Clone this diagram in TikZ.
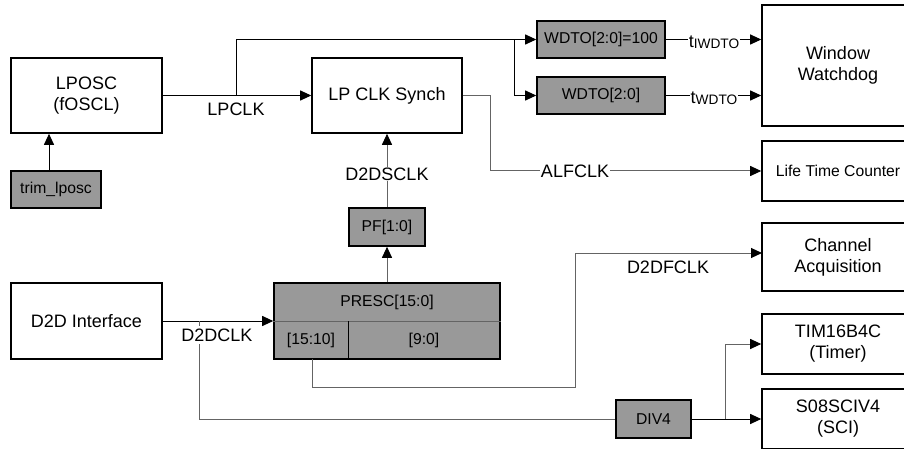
\documentclass[tikz,border=0pt]{standalone}
\usepackage{fontspec}
\setmainfont{Liberation Sans}
\usetikzlibrary{arrows.meta,calc}
\definecolor{boxgray}{RGB}{153,153,153}
\definecolor{linegray}{RGB}{100,100,100}
\newcommand\fbig{\fontsize{18}{21}\selectfont}
\newcommand\fsml{\fontsize{15.7}{18}\selectfont}
\newcommand\subt[1]{\raisebox{-1.5pt}{\fontsize{13.7}{14}\selectfont #1}}
\begin{document}
\begin{tikzpicture}[x=1pt,y=-1pt,
  box/.style n args={2}{draw=black,line width=1.6pt,fill=white,minimum width=#1,minimum height=#2,inner sep=0pt,align=center,font=\fbig},
  gbox/.style n args={2}{draw=black,line width=1.6pt,fill=boxgray,minimum width=#1,minimum height=#2,inner sep=0pt,align=center,font=\fsml},
  conn/.style={line width=1pt,draw=black},
  gconn/.style={line width=1pt,draw=linegray},
  arr/.style={conn,-{Triangle[length=11pt,width=10pt]}},
  garr/.style={gconn,-{Triangle[length=11pt,width=10pt,fill=black,color=black]}},
  lbl/.style={font=\fbig,inner sep=1pt,fill=white},
  plain/.style={font=\fbig,inner sep=0pt}
]
\clip (0,0) rectangle (904,449);
\fill[white] (0,0) rectangle (904,449);

% boxes
\node[box={151}{75}] (lposc) at (86.5,95.5) {LPOSC\\(fOSCL)};
\node[gbox={90}{37}] (trim) at (56,189.5) {trim\_lposc};
\node[box={150}{75}] (synch) at (387,95.5) {LP CLK Synch};
\node[gbox={128}{37}] (wdtoa) at (601,39.5) {WDTO[2:0]=100};
\node[gbox={128}{37}] (wdtob) at (601,95.5) {WDTO[2:0]};
\node[box={152}{121}] (wwd) at (838,65.5) {Window\\Watchdog};
\node[box={152}{60}] (ltc) at (838,171) {\fsml Life Time Counter};
\node[gbox={76}{38}] (pf) at (387,227) {PF[1:0]};
\node[gbox={226}{76}] (presc) at (387,321) {};
\node[box={151}{76}] (d2d) at (86.5,321) {D2D Interface};
\node[box={152}{68}] (chacq) at (838,257) {Channel\\Acquisition};
\node[box={152}{60}] (tim) at (838,344) {TIM16B4C\\(Timer)};
\node[box={152}{60}] (sci) at (838,419) {S08SCIV4\\(SCI)};
\node[gbox={75}{38}] (div4) at (653.5,419) {DIV4};

% PRESC internals
\draw[line width=1pt,draw=linegray] (presc.west) -- (presc.east);
\draw[line width=1pt,draw=black] ($(presc.south west)+(75,0)$) -- ($(presc.west)+(75,0)$);
\node[font=\fsml,inner sep=0pt] (presct) at (387,302) {PRESC[15:0]};
\node[font=\fsml,inner sep=0pt] (p1510) at (311,340) {[15:10]};
\node[font=\fsml,inner sep=0pt] (p90) at (424,340) {[9:0]};

% coordinates
\coordinate (b1) at (236,95.5);
\coordinate (b2) at (514,39.5);
\coordinate (s1) at (490,95.5);
\coordinate (d1) at (199,321);
\coordinate (f1) at (312,359);
\coordinate (f2) at (575,387);
\coordinate (f3) at (575,253);
\coordinate (v1) at (725,419);
\coordinate (c1) at (762,253);

% connectors
\draw[arr] ([xshift=-7pt]trim.north) -- ([xshift=-7pt]trim.north |- lposc.south);
\draw[arr] (lposc.east) -- (synch.west);
\draw[arr] (b1) |- (wdtoa.west);
\draw[arr] (b2) |- (wdtob.west);
\draw[arr] (wdtoa.east) -- (wdtoa.east -| wwd.west);
\draw[arr] (wdtob.east) -- (wdtob.east -| wwd.west);
\draw[garr] (synch.east) -- (s1) |- (ltc.west);
\draw[garr] (presc.north) -- (pf.south);
\draw[garr] (pf.north) -- (synch.south);
\draw[arr] (d2d.east) -- (presc.west);
\draw[gconn] (d1) |- (div4.west);
\draw[garr] (f1) |- (f2) -- (f3) -- (c1);
\draw[arr] (div4.east) -- (sci.west);
\draw[garr] (v1) |- (tim.west);

% labels
\node[plain] (llpclk) at (236,109) {LPCLK};
\node[lbl,anchor=base] (ltiw) at (714,47.5) {t\subt{IWDTO}};
\node[lbl,anchor=base] (ltw) at (714,103.5) {t\subt{WDTO}};
\node[lbl] (lalf) at (575,171) {ALFCLK};
\node[lbl] (ld2ds) at (387,174) {D2DSCLK};
\node[lbl,inner ysep=3pt] (ld2dc) at (217,335) {D2DCLK};
\node[plain] (ld2df) at (668,267) {D2DFCLK};
\end{tikzpicture}
\end{document}
